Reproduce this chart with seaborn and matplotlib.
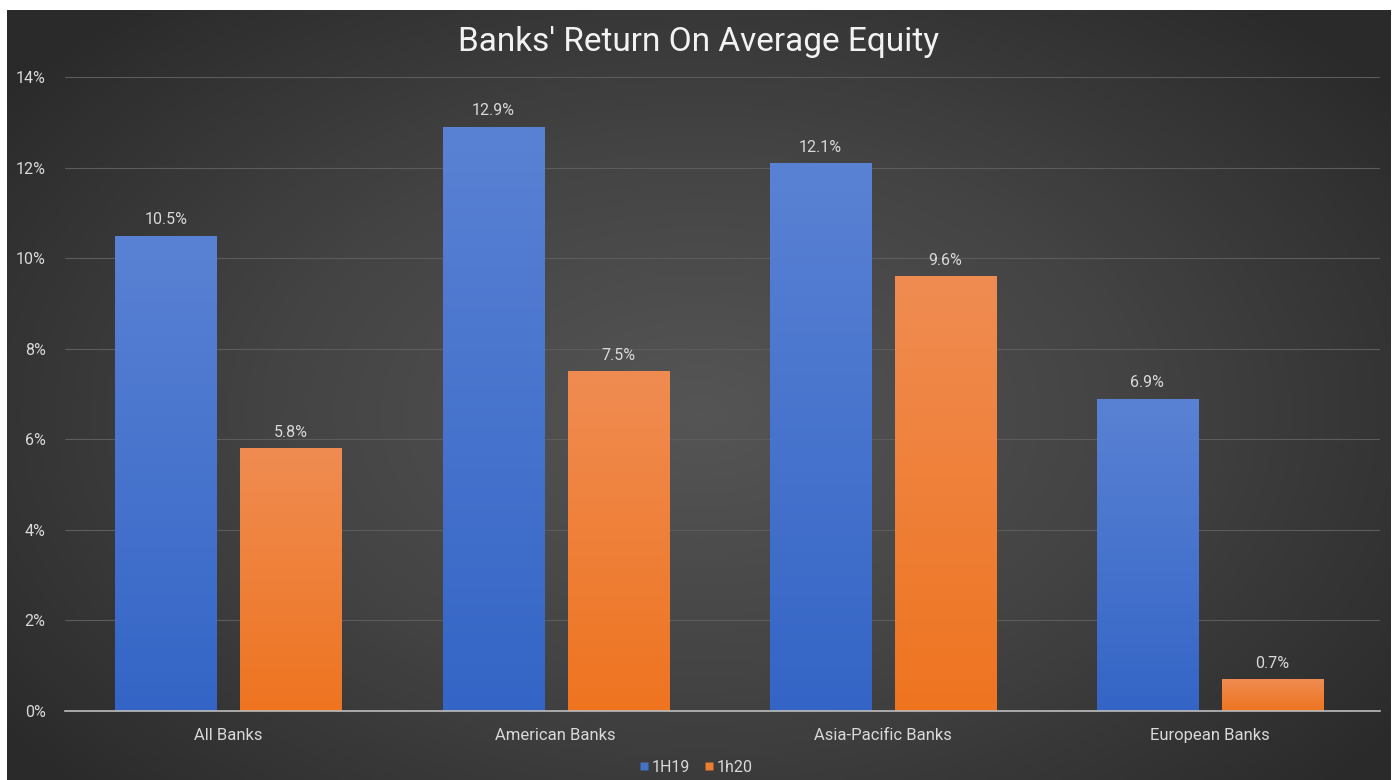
import numpy as np
import pandas as pd
import matplotlib
matplotlib.use("Agg")
import matplotlib.pyplot as plt
import matplotlib.patheffects as pe
from matplotlib.colors import LinearSegmentedColormap
from matplotlib.lines import Line2D
import seaborn as sns

categories = ["All Banks", "American Banks", "Asia-Pacific Banks", "European Banks"]
series_names = ["1H19", "1h20"]
values_1h19 = [10.5, 12.9, 12.1, 6.9]
values_1h20 = [5.8, 7.5, 9.6, 0.7]
y_ticks = [0, 2, 4, 6, 8, 10, 12, 14]
title = "Banks' Return On Average Equity"

df = pd.DataFrame({
    "category": categories * 2,
    "series": [series_names[0]] * 4 + [series_names[1]] * 4,
    "value": values_1h19 + values_1h20,
})

sns.set_theme(style="dark")
plt.rcParams["font.family"] = ["Roboto", "DejaVu Sans"]
TXT = "#d9d9d9"

W, H = 1395, 780
fig = plt.figure(figsize=(W / 100, H / 100), dpi=100, facecolor="white")

# dark radial-gradient panel
bg = fig.add_axes([7 / W, 0, (1391 - 7) / W, (H - 10) / H])
bg.set_axis_off()
gx, gy = np.meshgrid(np.linspace(-1, 1, 400), np.linspace(-1, 1, 240))
r = np.sqrt((gx / 1.05) ** 2 + ((gy - 0.05) / 1.2) ** 2)
r = np.clip(r, 0, 1.2) / 1.2
bgcmap = LinearSegmentedColormap.from_list("bg", ["#555555", "#434343", "#2a2a2a"])
bg.imshow(r, cmap=bgcmap, aspect="auto", extent=[0, 1, 0, 1], interpolation="bilinear")
bg.set_xlim(0, 1)
bg.set_ylim(0, 1)

ax = fig.add_axes([65 / W, (H - 711) / H, (1380 - 65) / W, (711 - 77) / H])
ax.patch.set_alpha(0)

palette = {"1H19": "#4472c4", "1h20": "#ed7d31"}
sns.barplot(data=df, x="category", y="value", hue="series", order=categories,
            hue_order=series_names, palette=palette, width=0.764, gap=0.19,
            ax=ax, legend=False, saturation=1)

grads = {
    "1H19": LinearSegmentedColormap.from_list("b", ["#3465c6", "#5a82d4"]),
    "1h20": LinearSegmentedColormap.from_list("o", ["#ee7420", "#f08c52"]),
}
grad = np.linspace(0, 1, 256).reshape(-1, 1)
for cont, name in zip(ax.containers, series_names):
    for bar in cont:
        x0, y0 = bar.get_x(), bar.get_y()
        w, h = bar.get_width(), bar.get_height()
        bar.set_path_effects([pe.SimplePatchShadow(offset=(0, 0), shadow_rgbFace="#151515", alpha=0.5, rho=0.3),
                              pe.Normal()])
        bar.set_edgecolor("none")
        im = ax.imshow(grad, cmap=grads[name], origin="lower", aspect="auto",
                       extent=[x0, x0 + w, y0, y0 + h], zorder=bar.get_zorder() + 0.1,
                       interpolation="bilinear")
        im.set_clip_path(bar)
        ax.annotate(f"{h:.1f}%", (x0 + w / 2, h), xytext=(0, 6), textcoords="offset points",
                    ha="center", va="bottom", color=TXT, fontsize=11.5)

ax.set_xlim(-0.5, 3.52)
ax.set_ylim(0, 14)
ax.set_yticks(y_ticks)
ax.set_yticklabels([f"{t}%" for t in y_ticks])
ax.set_xlabel("")
ax.set_ylabel("")
ax.grid(axis="y", color="#5c5c5c", linewidth=0.8)
ax.grid(axis="x", visible=False)
ax.set_axisbelow(True)
for s in ["left", "right", "top"]:
    ax.spines[s].set_visible(False)
ax.spines["bottom"].set_color("#bdbdbd")
ax.spines["bottom"].set_linewidth(1.2)
ax.tick_params(axis="y", length=0, pad=14, labelcolor=TXT, labelsize=11.5)
ax.tick_params(axis="x", length=0, pad=12, labelcolor=TXT, labelsize=12)

fig.text(699 / W, 1 - 42 / H, title, ha="center", va="center", color="#f2f2f2", fontsize=24)

# legend
handles = [Line2D([], [], marker="s", linestyle="none", markersize=5.5,
                  markerfacecolor=palette[n], markeredgecolor="none") for n in series_names]
fig.legend(handles, series_names, loc="center", bbox_to_anchor=(695 / W, 1 - 767 / H),
           ncol=2, frameon=False, fontsize=11.5, labelcolor=TXT, handletextpad=0.1,
           columnspacing=0.8, handlelength=0.8)

fig.savefig("out.png", dpi=100, facecolor="white")
